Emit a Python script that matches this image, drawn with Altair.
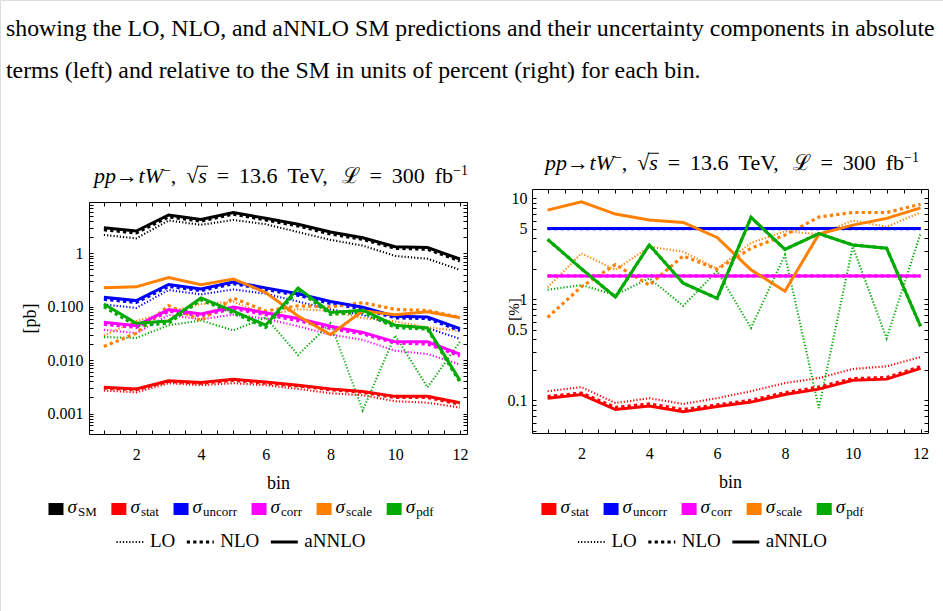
import altair as alt
import pandas as pd

# ---------------------------------------------------------------- data
bins = list(range(1, 13))
orders = ["LO", "NLO", "aNNLO"]
components = ["SM", "stat", "uncorr", "corr", "scale", "pdf"]
comp_colors = ["#000000", "#ff0000", "#0000ff", "#ff00ff", "#ff8000", "#00aa00"]

# absolute predictions and uncertainties [pb]
sm_lo = [2.2, 1.9, 4.1, 3.4, 4.2, 3.5, 2.5, 1.78, 1.39, 0.89, 0.79, 0.49]
sm_nlo = [2.75, 2.4, 4.8, 4.0, 5.4, 4.2, 3.25, 2.3, 1.82, 1.24, 1.19, 0.72]
sm_annlo = [3.0, 2.6, 5.2, 4.3, 5.8, 4.5, 3.5, 2.5, 1.95, 1.32, 1.28, 0.78]

stat_lo = [0.0027, 0.0025, 0.0037, 0.0034, 0.0037, 0.0034, 0.0029, 0.0024, 0.0022, 0.0017, 0.0016, 0.0013]
stat_nlo = [0.0030, 0.0028, 0.0040, 0.0037, 0.0042, 0.0037, 0.0033, 0.0028, 0.0025, 0.0020, 0.0020, 0.0015]
stat_annlo = [0.0031, 0.0029, 0.0041, 0.0038, 0.0044, 0.0039, 0.0034, 0.0029, 0.0026, 0.0021, 0.0021, 0.0016]

uncorr_lo = [0.110, 0.095, 0.205, 0.170, 0.210, 0.175, 0.125, 0.089, 0.070, 0.045, 0.040, 0.025]
uncorr_nlo = [0.138, 0.120, 0.240, 0.200, 0.270, 0.210, 0.163, 0.115, 0.091, 0.062, 0.060, 0.036]
uncorr_annlo = [0.150, 0.130, 0.260, 0.215, 0.290, 0.225, 0.175, 0.125, 0.098, 0.066, 0.064, 0.039]

corr_lo = [0.037, 0.032, 0.070, 0.058, 0.071, 0.060, 0.043, 0.030, 0.024, 0.015, 0.013, 0.0083]
corr_nlo = [0.047, 0.041, 0.082, 0.068, 0.092, 0.071, 0.055, 0.039, 0.031, 0.021, 0.020, 0.012]
corr_annlo = [0.051, 0.044, 0.088, 0.073, 0.099, 0.077, 0.060, 0.043, 0.033, 0.022, 0.022, 0.013]

scale_lo = [0.029, 0.054, 0.080, 0.112, 0.124, 0.070, 0.090, 0.084, 0.061, 0.053, 0.041, 0.035]
scale_nlo = [0.018, 0.032, 0.105, 0.055, 0.145, 0.083, 0.104, 0.099, 0.119, 0.089, 0.085, 0.063]
scale_annlo = [0.227, 0.235, 0.350, 0.258, 0.330, 0.184, 0.067, 0.030, 0.084, 0.071, 0.080, 0.062]

pdf_lo = [0.027, 0.026, 0.045, 0.055, 0.036, 0.063, 0.0125, 0.049, 0.00115, 0.029, 0.0031, 0.022]
pdf_nlo = [0.100, 0.044, 0.049, 0.134, 0.076, 0.041, 0.206, 0.072, 0.079, 0.041, 0.038, 0.0039]
pdf_annlo = [0.112, 0.049, 0.054, 0.146, 0.083, 0.045, 0.224, 0.078, 0.086, 0.045, 0.040, 0.0042]

# relative uncertainties [%]
rstat_lo = [0.123, 0.135, 0.094, 0.105, 0.092, 0.105, 0.123, 0.148, 0.166, 0.204, 0.217, 0.268]
rstat_nlo = [0.109, 0.118, 0.085, 0.092, 0.081, 0.090, 0.100, 0.119, 0.135, 0.164, 0.168, 0.215]
rstat_annlo = [0.105, 0.114, 0.081, 0.088, 0.077, 0.087, 0.096, 0.114, 0.129, 0.158, 0.162, 0.207]

runcorr_lo = [5.0] * 12
runcorr_nlo = [5.0] * 12
runcorr_annlo = [5.0] * 12

rcorr_lo = [1.7] * 12
rcorr_nlo = [1.7] * 12
rcorr_annlo = [1.7] * 12

rscale_lo = [1.31, 2.84, 1.95, 3.3, 2.95, 2.0, 3.6, 4.7, 4.4, 6.0, 5.2, 7.2]
rscale_nlo = [0.66, 1.33, 2.2, 1.38, 2.68, 1.98, 3.19, 4.3, 6.5, 7.2, 7.2, 8.7]
rscale_annlo = [7.6, 9.2, 6.95, 6.07, 5.75, 4.08, 1.95, 1.2, 4.4, 5.4, 6.3, 8.0]

rpdf_lo = [1.24, 1.38, 1.1, 1.61, 0.86, 1.9, 0.52, 2.74, 0.084, 3.31, 0.41, 4.48]
rpdf_nlo = [3.9, 2.0, 1.05, 3.44, 1.44, 1.02, 6.44, 3.11, 4.45, 3.44, 3.19, 0.54]
rpdf_annlo = [3.9, 2.0, 1.05, 3.44, 1.44, 1.02, 6.44, 3.11, 4.45, 3.44, 3.19, 0.54]

# panel heading as runs: upright, italic, superscript, or a gap (em)
title_runs = [
    ("pp", "italic"), ("\u2192", "normal"), (0.02, "gap"),
    ("tW", "italic"), ("\u2212", "sup"), (",", "normal"), (0.45, "gap"),
    ("\u221a", "normal"), ("s", "italic"), (0.45, "gap"),
    ("=", "normal"), (0.45, "gap"), ("13.6", "normal"), (0.45, "gap"), ("TeV,", "normal"),
    (0.45, "gap"), ("\u2112", "normal"), (0.45, "gap"), ("=", "normal"), (0.45, "gap"),
    ("300", "normal"), (0.45, "gap"), ("fb", "normal"), ("\u22121", "sup"),
]
caption_lines = [
    "showing the LO, NLO, and aNNLO SM predictions and their uncertainty components in absolute",
    "terms (left) and relative to the SM in units of percent (right) for each bin.",
]

# ---------------------------------------------------------------- layout
W, H = 943, 611
SERIF = "Liberation Serif"
TICK = 4
X_DOMAIN = [0.54, 12.22]
LEFT_BOX = (89, 467, 202, 434)    # x0, x1, y0, y1 of the plot frame
RIGHT_BOX = (532, 928, 189, 433)
LEFT_YDOM = [0.000415, 9.1]
RIGHT_YDOM = [0.0475, 12.3]

line_style = {
    "LO": dict(strokeWidth=2.1, strokeDash=[1.2, 2.0]),
    "NLO": dict(strokeWidth=3.2, strokeDash=[3.2, 3.2]),
    "aNNLO": dict(strokeWidth=3.0),
}

color = alt.Color("comp:N", scale=alt.Scale(domain=components, range=comp_colors), legend=None)


def long_table(table):
    rows = []
    for comp, series in table.items():
        for order, vals in zip(orders, series):
            rows += [{"bin": b, "value": v, "comp": comp, "order": order} for b, v in zip(bins, vals)]
    return pd.DataFrame(rows)


abs_df = long_table({
    "SM": (sm_lo, sm_nlo, sm_annlo),
    "stat": (stat_lo, stat_nlo, stat_annlo),
    "uncorr": (uncorr_lo, uncorr_nlo, uncorr_annlo),
    "corr": (corr_lo, corr_nlo, corr_annlo),
    "scale": (scale_lo, scale_nlo, scale_annlo),
    "pdf": (pdf_lo, pdf_nlo, pdf_annlo),
})
rel_df = long_table({
    "stat": (rstat_lo, rstat_nlo, rstat_annlo),
    "uncorr": (runcorr_lo, runcorr_nlo, runcorr_annlo),
    "corr": (rcorr_lo, rcorr_nlo, rcorr_annlo),
    "scale": (rscale_lo, rscale_nlo, rscale_annlo),
    "pdf": (rpdf_lo, rpdf_nlo, rpdf_annlo),
})


def log_ticks(lo, hi):
    vals = []
    for e in range(-4, 3):
        for m in range(1, 10):
            v = float(f"{m}e{e}")
            if lo <= v <= hi:
                vals.append(v)
    return vals


AX = dict(grid=False, tickColor="black", tickWidth=1, tickSize=TICK,
          domainColor="black", domainWidth=1, labelFont=SERIF, labelFontSize=16,
          labelColor="black", titleFont=SERIF, titleFontSize=18, titleColor="black",
          titleFontWeight="normal", labelOverlap=False, labelFlush=False)


def axis(**opts):
    return alt.Axis(**{**AX, **opts})


def frame_axis(orient, offset):
    return axis(orient=orient, offset=offset, ticks=False, labels=False,
                domain=True, title=None)


def tick_axis(orient, offset, values):
    return axis(orient=orient, offset=offset, values=values, ticks=True,
                labels=False, domain=False, title=None)


def panel(df, box, y_domain, y_label_expr, y_title, y_label_pad, y_title_opts):
    x0, x1, y0, y1 = box
    xs = alt.Scale(domain=X_DOMAIN, range=[x0, x1], nice=False, zero=False)
    ys = alt.Scale(type="log", domain=y_domain, range=[y1, y0], nice=False)
    x_vals = [1 + 0.5 * i for i in range(23)]
    y_vals = log_ticks(*y_domain)

    x_main = axis(orient="bottom", offset=y1 - TICK - H, values=x_vals, ticks=True,
                  domain=False, labels=True, labelPadding=12,
                  labelExpr="datum.value % 2 === 0 ? format(datum.value, 'd') : ''",
                  title="bin", titlePadding=12)
    y_main = axis(orient="left", offset=-(x0 + TICK), values=y_vals, ticks=True,
                  domain=False, labels=True, labelPadding=y_label_pad,
                  labelExpr=y_label_expr, title=y_title, **y_title_opts)

    base = alt.Chart(df)

    def lines(order, xa, ya, opacity=1.0):
        return base.transform_filter(alt.datum.order == order).mark_line(
            opacity=opacity, **line_style[order]
        ).encode(
            x=alt.X("bin:Q", scale=xs, axis=xa),
            y=alt.Y("value:Q", scale=ys, axis=ya),
            color=color,
        )

    return alt.layer(
        lines("LO", frame_axis("bottom", y1 - H), frame_axis("left", -x0)),
        lines("NLO", frame_axis("top", -y0), frame_axis("right", x1 - W)),
        lines("aNNLO", x_main, y_main),
        lines("aNNLO", tick_axis("top", -(y0 + TICK), x_vals),
              tick_axis("right", x1 - TICK - W, y_vals), opacity=0.0),
    ).resolve_axis(x="independent", y="independent")


left_panel = panel(
    abs_df, LEFT_BOX, LEFT_YDOM,
    "indexof([0.001, 0.01, 0.1, 1], datum.value) >= 0 ? "
    "(datum.value >= 1 ? '1' : format(datum.value, '.3f')) : ''",
    "[pb]", 6, dict(titlePadding=8),
)
# the percent label sits in the tick-label column, between "1" and "0.5"
right_panel = panel(
    rel_df, RIGHT_BOX, RIGHT_YDOM,
    "indexof([0.1, 0.5, 1, 5, 10], datum.value) >= 0 ? format(datum.value, '~g') : ''",
    "[%]", 5,
    dict(titleX=513 - (RIGHT_BOX[0] + TICK), titleY=309, titleBaseline="middle",
         titleAlign="center", titleFontSize=15),
)

# ---------------------------------------------------------------- text metrics
# advance widths (em) of the serif face, regular and italic
EM = {" ": .25, ",": .25, ".": .25, "=": .564, "\u2212": .564,
      "\u2192": 1.0, "\u221a": .549, "\u2112": .8,
      "0": .5, "1": .5, "2": .5, "3": .5, "4": .5, "5": .5, "6": .5, "7": .5, "8": .5, "9": .5,
      "a": .444, "b": .5, "c": .444, "d": .5, "e": .444, "f": .333, "i": .278,
      "l": .278, "n": .5, "o": .5, "p": .5, "r": .333, "s": .389, "t": .278,
      "u": .5, "S": .556, "M": .889, "L": .611, "N": .722, "O": .722,
      "T": .611, "V": .722, "W": .944}
EM_IT = {"p": .5, "t": .278, "W": .833, "s": .389, "\u03c3": .5}


def text_width(s, fs, italic=False):
    table = EM_IT if italic else EM
    return fs * sum(table.get(ch, EM.get(ch, 0.5)) for ch in s)


def text_layer(df, **mark):
    return alt.Chart(df).mark_text(font=SERIF, color="black", **mark).encode(
        x=alt.X("px:Q", scale=None, axis=None),
        y=alt.Y("py:Q", scale=None, axis=None),
        text="label:N",
    )


caption = text_layer(
    pd.DataFrame({"label": caption_lines, "px": [6, 6], "py": [36, 78]}),
    align="left", baseline="alphabetic", fontSize=23.8,
)

TITLE_FS, SUP_FS, SUP_RISE = 22, 14, 8


def run_width(text, style):
    if style == "gap":
        return text * TITLE_FS
    if style == "sup":
        return text_width(text, SUP_FS)
    return text_width(text, TITLE_FS, style == "italic")


def title_frames(cx, baseline):
    widths = [run_width(t, s) for t, s in title_runs]
    x = cx - sum(widths) / 2
    rows, bar = [], {}
    for (t, s), w in zip(title_runs, widths):
        if s != "gap":
            rows.append(dict(label=t, style=s, px=x,
                             py=baseline - (SUP_RISE if s == "sup" else 0)))
        if t == "\u221a":
            bar["px"] = x + w - 1.5
        if t == "s" and s == "italic":
            bar["px2"] = x + w + 1
            bar["py"] = baseline - 0.76 * TITLE_FS
        x += w
    return pd.DataFrame(rows), pd.DataFrame([bar])


left_t, left_bar = title_frames((LEFT_BOX[0] + LEFT_BOX[1]) / 2 + 3, LEFT_BOX[2] - 19)
right_t, right_bar = title_frames((RIGHT_BOX[0] + RIGHT_BOX[1]) / 2 + 2, RIGHT_BOX[2] - 19)
title_df = pd.concat([left_t, right_t])
bar_df = pd.concat([left_bar, right_bar])

title_layers = [
    text_layer(title_df[title_df["style"] == "normal"], align="left",
               baseline="alphabetic", fontSize=TITLE_FS),
    text_layer(title_df[title_df["style"] == "italic"], align="left",
               baseline="alphabetic", fontSize=TITLE_FS, fontStyle="italic"),
    text_layer(title_df[title_df["style"] == "sup"], align="left",
               baseline="alphabetic", fontSize=SUP_FS),
    # vinculum of the square root over s
    alt.Chart(bar_df).mark_rule(color="black", strokeWidth=1).encode(
        x=alt.X("px:Q", scale=None, axis=None), x2="px2:Q",
        y=alt.Y("py:Q", scale=None, axis=None)),
]

# ---------------------------------------------------------------- legends
SIG_FS, SUB_FS, LEG_FS = 19, 13, 19
SWATCH, SWATCH_H = 15, 12
ROW1_Y, ROW2_Y = 509, 542


def color_legend(comps, cx):
    sig_w = text_width("\u03c3", SIG_FS, True)
    widths = [SWATCH + 4 + sig_w + 1 + text_width(c, SUB_FS) for c in comps]
    gap = 14.6
    x = cx - (sum(widths) + gap * (len(comps) - 1)) / 2
    rows = []
    for c, w in zip(comps, widths):
        rows.append(dict(comp=c, px=x, px2=x + SWATCH, py=ROW1_Y - SWATCH_H / 2,
                         py2=ROW1_Y + SWATCH_H / 2, sx=x + SWATCH + 4,
                         subx=x + SWATCH + 4 + sig_w + 1))
        x += w + gap
    return pd.DataFrame(rows)


def style_legend(cx):
    sample, pad, gap = 27, 6.5, 11.5
    widths = [sample + pad + text_width(o, LEG_FS) for o in orders]
    x = cx - (sum(widths) + gap * (len(orders) - 1)) / 2
    rows = []
    for o, w in zip(orders, widths):
        rows.append(dict(order=o, px=x, px2=x + sample, tx=x + sample + pad))
        x += w + gap
    return pd.DataFrame(rows)


def legend_layers(comps, cx):
    cdf = color_legend(comps, cx)
    cdf["sigma"] = "\u03c3"
    sdf = style_legend(cx)
    out = [
        alt.Chart(cdf).mark_rect().encode(
            x=alt.X("px:Q", scale=None, axis=None), x2="px2:Q",
            y=alt.Y("py:Q", scale=None, axis=None), y2="py2:Q", color=color),
        alt.Chart(cdf).mark_text(font=SERIF, fontStyle="italic", fontSize=SIG_FS,
                                 align="left", baseline="alphabetic", color="black").encode(
            x=alt.X("sx:Q", scale=None, axis=None),
            y=alt.value(ROW1_Y + 3.5), text="sigma:N"),
        alt.Chart(cdf).mark_text(font=SERIF, fontSize=SUB_FS, align="left",
                                 baseline="alphabetic", color="black").encode(
            x=alt.X("subx:Q", scale=None, axis=None),
            y=alt.value(ROW1_Y + 7), text="comp:N"),
        alt.Chart(sdf).mark_text(font=SERIF, fontSize=LEG_FS, align="left",
                                 baseline="alphabetic", color="black").encode(
            x=alt.X("tx:Q", scale=None, axis=None),
            y=alt.value(ROW2_Y + 4.5), text="order:N"),
    ]
    for o in orders:
        out.append(
            alt.Chart(sdf).transform_filter(alt.datum.order == o).mark_rule(
                color="black", **line_style[o]).encode(
                x=alt.X("px:Q", scale=None, axis=None), x2="px2:Q",
                y=alt.value(ROW2_Y)))
    return out


chart = alt.layer(
    left_panel,
    right_panel,
    caption,
    *title_layers,
    *legend_layers(components, 241),
    *legend_layers(components[1:], 702.5),
).resolve_scale(
    x="independent", y="independent"
).properties(
    width=W, height=H, padding=0,
    autosize=alt.AutoSizeParams(type="none"),
).configure_view(stroke=None).configure(background="white")

chart.save("out.html", embed_options={"renderer": "svg", "actions": False})
